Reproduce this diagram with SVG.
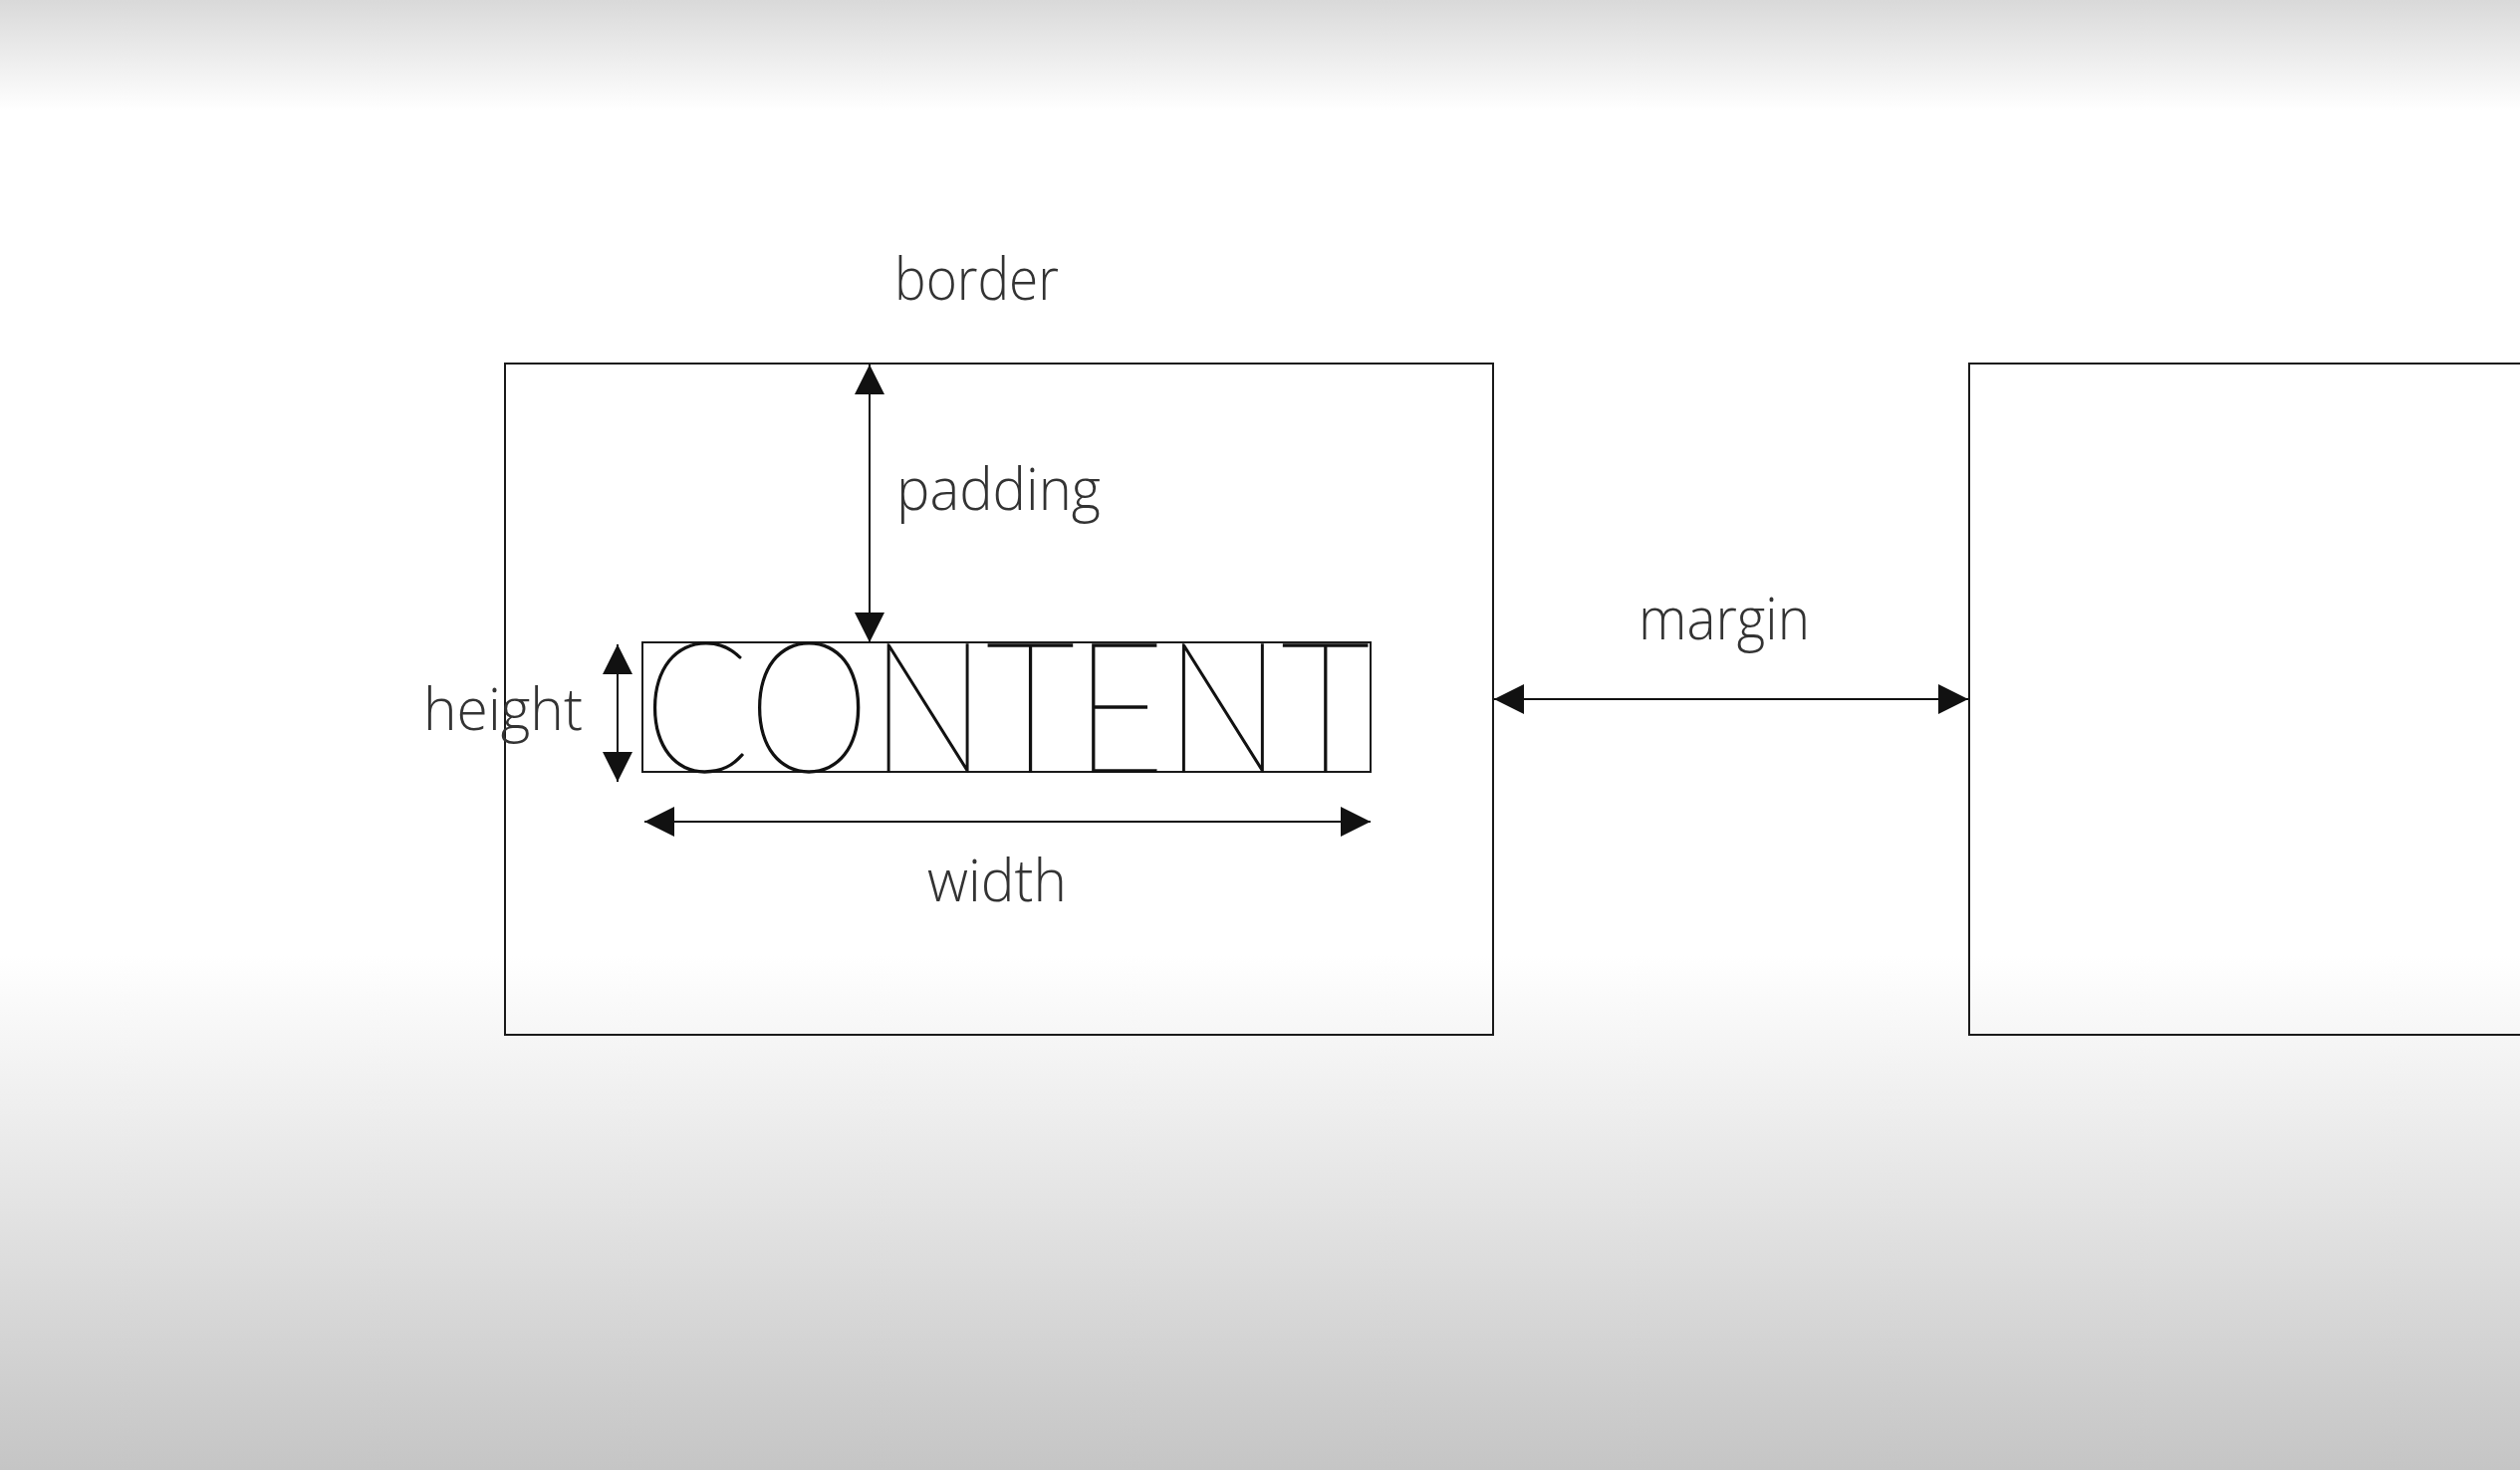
<svg xmlns="http://www.w3.org/2000/svg" width="2530" height="1476" viewBox="0 0 2530 1476">
  <defs>
    <linearGradient id="bg" x1="0" y1="0" x2="0" y2="1">
      <stop offset="0" stop-color="#d9d9d9"/>
      <stop offset="0.075" stop-color="#ffffff"/>
      <stop offset="0.65" stop-color="#ffffff"/>
      <stop offset="0.705" stop-color="#f6f6f6"/>
      <stop offset="0.81" stop-color="#e5e5e5"/>
      <stop offset="0.91" stop-color="#d4d4d4"/>
      <stop offset="1" stop-color="#c5c5c5"/>
    </linearGradient>
    <marker id="ah" markerUnits="userSpaceOnUse" markerWidth="30" markerHeight="30" refX="30" refY="15" orient="auto-start-reverse" viewBox="0 0 30 30">
      <path d="M0,0 L30,15 L0,30 z" fill="#111"/>
    </marker>
  </defs>
  <style>
    .box { fill: none; stroke: #1a1a1a; stroke-width: 2; }
    .lbl { font-family: "Open Sans", "Liberation Sans", sans-serif; font-weight: 300; font-size: 58px; fill: #333; }
    .arrow { stroke: #111; stroke-width: 2; fill: none; marker-start: url(#ah); marker-end: url(#ah); }
    .content { font-family: Lato, "Open Sans", "Liberation Sans", sans-serif; font-weight: 100; font-size: 182px; fill: #111; stroke: #111; stroke-width: 1.6; }
  </style>
  <rect x="0" y="0" width="2530" height="1476" fill="url(#bg)"/>

  <g id="element-box">
    <rect class="box" x="507" y="365" width="992" height="674"/>
    <text class="lbl" x="898" y="301" textLength="165" lengthAdjust="spacingAndGlyphs">border</text>
  </g>

  <g id="content-box">
    <rect class="box" x="645" y="645" width="731" height="130"/>
    <text class="content" x="646" y="775" textLength="729" lengthAdjust="spacingAndGlyphs">CONTENT</text>
  </g>

  <g id="neighbor-box">
    <rect class="box" x="1977" y="365" width="600" height="674"/>
  </g>

  <g id="connectors">
    <line class="arrow" x1="873" y1="366" x2="873" y2="645"/>
    <line class="arrow" x1="620" y1="647" x2="620" y2="785"/>
    <line class="arrow" x1="647" y1="825" x2="1376" y2="825"/>
    <line class="arrow" x1="1500" y1="702" x2="1976" y2="702"/>
  </g>

  <g id="labels">
    <text class="lbl" x="900" y="512" textLength="205" lengthAdjust="spacingAndGlyphs">padding</text>
    <text class="lbl" x="1645" y="642" textLength="172" lengthAdjust="spacingAndGlyphs">margin</text>
    <text class="lbl" x="425" y="733" textLength="160" lengthAdjust="spacingAndGlyphs">height</text>
    <text class="lbl" x="931" y="905" textLength="140" lengthAdjust="spacingAndGlyphs">width</text>
  </g>
</svg>
